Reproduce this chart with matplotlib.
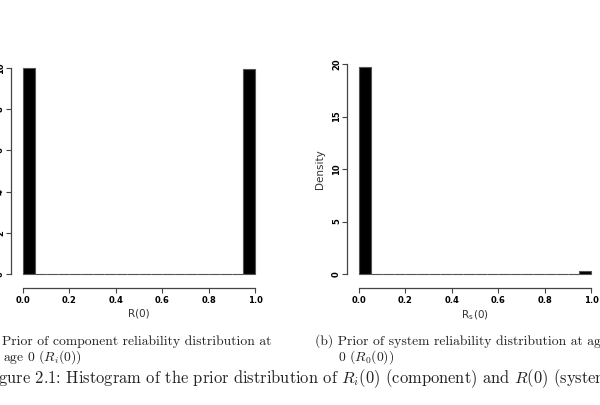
import numpy as np
import matplotlib
matplotlib.use("Agg")
import matplotlib.pyplot as plt

# histogram bins (width 0.05 on [0, 1])
bin_edges = np.linspace(0, 1, 21)
comp_density = [10.0] + [0.0] * 18 + [9.96]
sys_density = [19.7] + [0.0] * 18 + [0.3]

x_ticks = [0.0, 0.2, 0.4, 0.6, 0.8, 1.0]
comp_yticks = [0, 2, 4, 6, 8, 10]
sys_yticks = [0, 5, 10, 15, 20]

plt.rcParams['mathtext.fontset'] = 'cm'

W, H = 600, 405
fig = plt.figure(figsize=(6, 4.05), dpi=100)


def px_axes(x0, y_top, x1, y_bot):
    return fig.add_axes([x0 / W, (H - y_bot) / H, (x1 - x0) / W, (y_bot - y_top) / H])


def style_hist(ax, heights, yticks, xlabel, ylabel):
    ax.bar(bin_edges[:-1], heights, width=0.05, align='edge', color='black',
           edgecolor='#555555', linewidth=0.8, clip_on=False)
    ax.set_xlim(0, 1)
    ax.set_ylim(0, yticks[-1])
    for s in ['top', 'right']:
        ax.spines[s].set_visible(False)
    ax.spines['left'].set_position(('outward', 9))
    ax.spines['bottom'].set_position(('outward', 10))
    ax.spines['left'].set_bounds(0, yticks[-1])
    ax.spines['bottom'].set_bounds(0, 1)
    for s in ['left', 'bottom']:
        ax.spines[s].set_color('#444444')
        ax.spines[s].set_linewidth(0.9)
    ax.set_xticks(x_ticks)
    ax.set_xticklabels([f"{t:.1f}" for t in x_ticks], fontsize=6, fontweight='bold')
    ax.set_yticks(yticks)
    ax.set_yticklabels([str(t) for t in yticks], fontsize=6, fontweight='bold',
                       rotation=90, va='center')
    ax.tick_params(length=3.5, width=0.8, color='#444444')
    ax.tick_params(axis='x', pad=2.5)
    ax.tick_params(axis='y', pad=0.5)
    ax.set_xlabel(xlabel, fontsize=7.5, color='#333333', labelpad=2)
    ax.set_ylabel(ylabel, fontsize=7.5, color='#333333', labelpad=5)
    ax.patch.set_alpha(0)


ax1 = px_axes(23, 68, 255, 274)
style_hist(ax1, comp_density, comp_yticks, "R(0)", "Density")

ax2 = px_axes(359, 64, 591, 274)
style_hist(ax2, sys_density, sys_yticks, r"R$_\mathregular{s}$(0)", "Density")

# sub-captions and figure caption (serif, document style)
cap = dict(family='cmr10', fontsize=9.85, color='#222222', va='baseline')
fig.text(-20 / W, 1 - 345 / H, "(a) Prior of component reliability distribution at", **cap)
fig.text(3 / W, 1 - 361 / H, r"age 0 ($R_i(0)$)", **cap)
fig.text(315 / W, 1 - 345 / H, "(b) Prior of system reliability distribution at age", **cap)
fig.text(338 / W, 1 - 361 / H, r"0 ($R_0(0)$)", **cap)
fig.text(-17 / W, 1 - 383 / H,
         r"Figure 2.1: Histogram of the prior distribution of $R_i(0)$ (component) and $R(0)$ (system)",
         family='cmr10', fontsize=11.85, color='#222222', va='baseline')

fig.savefig("out.png", dpi=100)
